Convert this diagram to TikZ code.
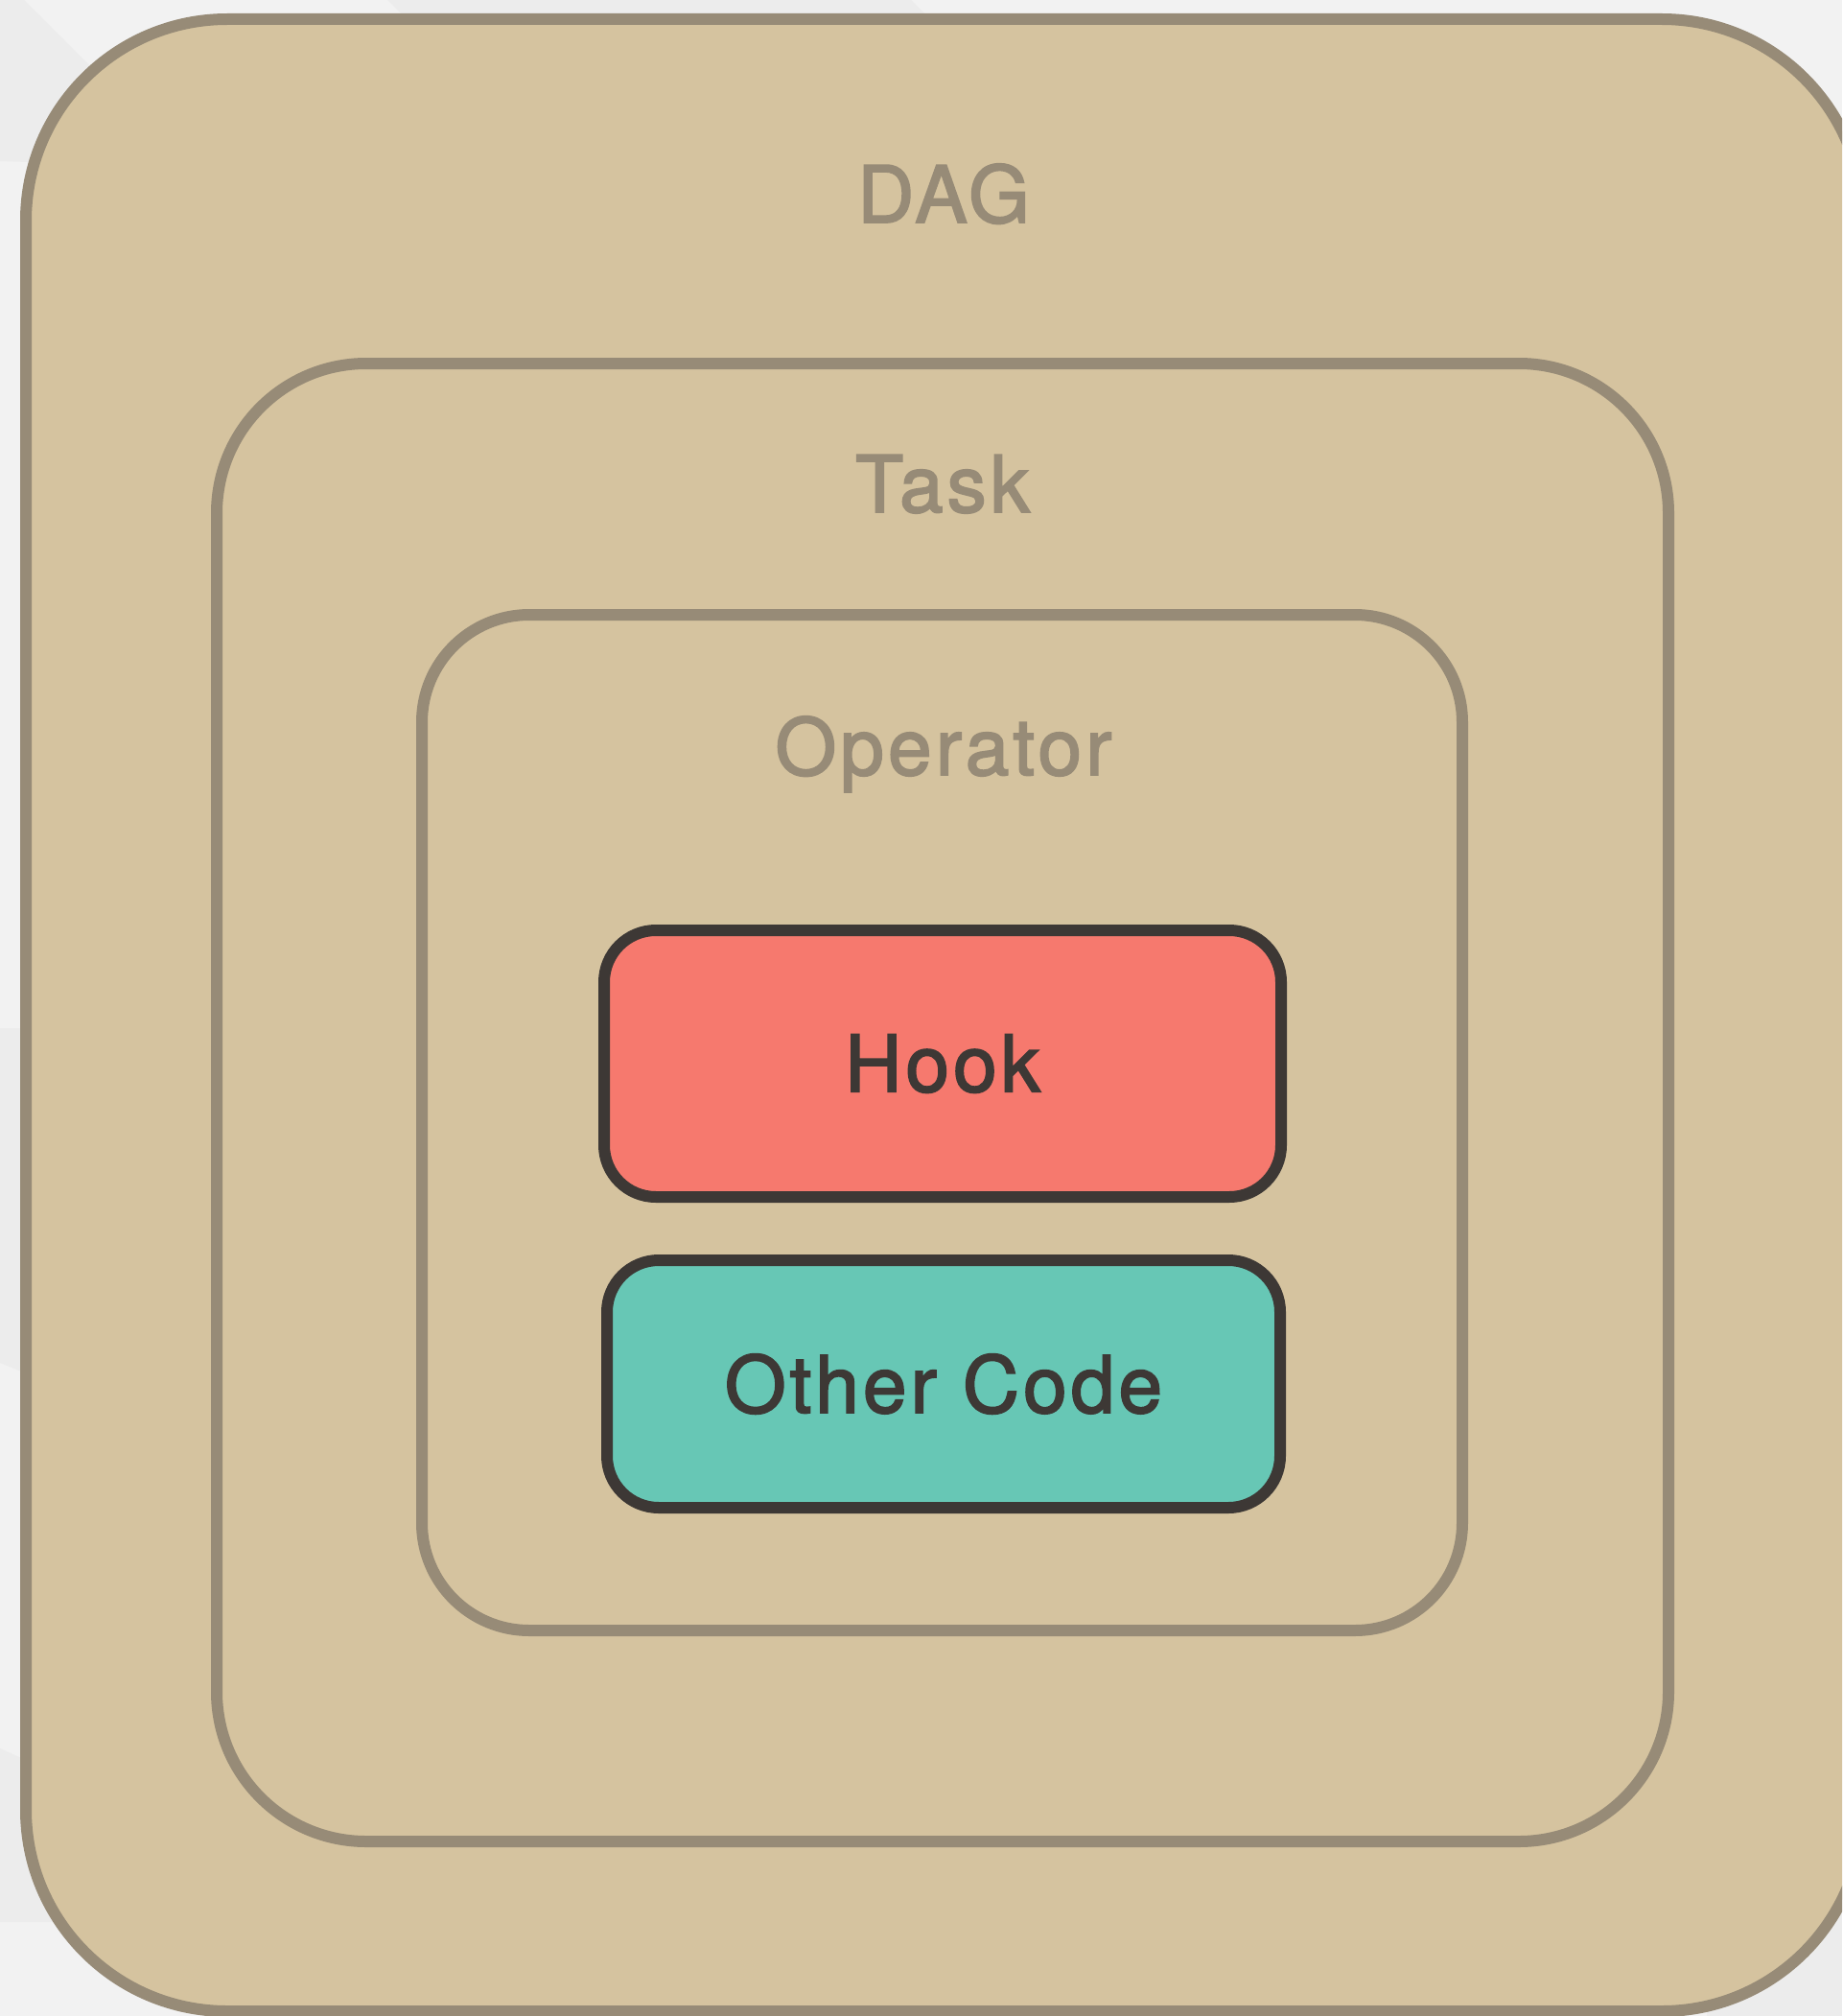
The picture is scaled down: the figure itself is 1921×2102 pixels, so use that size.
\documentclass[tikz,border=0pt]{standalone}
\usepackage{fontspec}
\setmainfont{TeX Gyre Heros}
\newfontfamily\labelfont{TeX Gyre Heros}[FakeBold=2.2, LetterSpace=5]
\definecolor{bglight}{HTML}{F2F2F2}
\definecolor{bgdark}{HTML}{ECECEC}
\definecolor{tan}{HTML}{D5C39F}
\definecolor{tanline}{HTML}{978B77}
\definecolor{darkline}{HTML}{3D3835}
\definecolor{hookred}{HTML}{F6796E}
\definecolor{codegreen}{HTML}{67C7B5}
\tikzset{
  layer/.style={fill=tan, draw=tanline, line width=6pt},
  layername/.style={anchor=base, text=tanline, inner sep=0pt, font=\labelfont\fontsize{41pt}{50pt}\selectfont},
  codebox/.style={draw=darkline, line width=6pt, rounded corners=27pt, inner sep=0pt,
    text=darkline, font=\labelfont\fontsize{41pt}{50pt}\selectfont}
}
\begin{document}
\begin{tikzpicture}[x=0.5pt, y=-0.5pt]
            \useasboundingbox (0,0) rectangle (1921,2102);
            \clip (0,0) rectangle (1921,2102);
            % background
            \fill[bglight] (0,0) rectangle (1921,2102);
            \fill[bgdark] (0,0) -- (25,0) -- (200,175) -- (0,168) -- cycle;
            \fill[bgdark] (404,0) -- (950,0) -- (1100,150) -- (554,150) -- cycle;
            \fill[bgdark] (0,1072) -- (60,1072) -- (60,1445) -- (0,1421) -- cycle;
            \fill[bgdark] (0,1823) -- (60,1850) -- (60,2004) -- (0,2004) -- cycle;
            \fill[bgdark] (1780,1900) rectangle (1921,2102);
            % nested layers
            \filldraw[layer, rounded corners=105pt] (27,20) rectangle (1943,2097);
            \filldraw[layer, rounded corners=78pt] (226,379) rectangle (1740,1920);
            \filldraw[layer, rounded corners=56pt] (440,641) rectangle (1525,1700);
            \node[layername] (dag) at (984,232) {DAG};
            \node[layername] (task) at (983,534) {Task};
            \node[layername] (operator) at (984,808) {Operator};
            % code inside the operator
            \node[codebox, fill=hookred, minimum width=353pt, minimum height=139pt] (hook) at (983,1109) {Hook};
            \node[codebox, fill=codegreen, minimum width=351pt, minimum height=129pt] (other) at (984,1443) {Other Code};
\end{tikzpicture}
\end{document}
